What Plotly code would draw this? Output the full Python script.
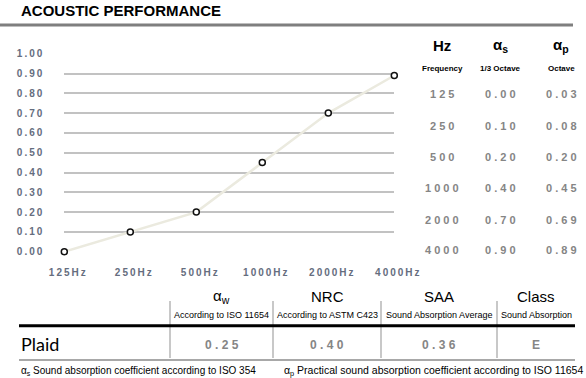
import plotly.graph_objects as go

W, H = 586, 378

# ---------------- data ----------------
freq_labels = ["125Hz", "250Hz", "500Hz", "1000Hz", "2000Hz", "4000Hz"]
plot_values = [0.00, 0.10, 0.20, 0.45, 0.70, 0.89]
y_ticks = [0.0, 0.1, 0.2, 0.3, 0.4, 0.5, 0.6, 0.7, 0.8, 0.9, 1.0]

table_freq = ["125", "250", "500", "1000", "2000", "4000"]
alpha_s = ["0.00", "0.10", "0.20", "0.40", "0.70", "0.90"]
alpha_p = ["0.03", "0.08", "0.20", "0.45", "0.69", "0.89"]

summary_heads = ["α<sub>w</sub>", "NRC", "SAA", "Class"]
summary_subs = ["According to ISO 11654", "According to ASTM C423",
                "Sound Absorption Average", "Sound Absorption"]
product_name = "Plaid"
summary_values = ["0.25", "0.40", "0.36", "E"]

title_text = "ACOUSTIC PERFORMANCE"
footnote_1 = "α<sub>s</sub> Sound absorption coefficient according to ISO 354"
footnote_2 = "α<sub>p</sub> Practical sound absorption coefficient according to ISO 11654"


def px(x):
    return x / W


def py(y):
    return 1 - y / H


def spaced(s, sep="\u2009"):
    return sep.join(list(s))


AX_COL = "#656d7e"
VAL_COL = "#858585"

fig = go.Figure()
fig.add_trace(go.Scatter(
    x=list(range(len(freq_labels))), y=plot_values,
    mode="lines+markers",
    line=dict(color="#ebeadf", width=2.5),
    marker=dict(symbol="circle", size=6, color="white",
                line=dict(color="#111111", width=1.5)),
    cliponaxis=False, hoverinfo="skip", showlegend=False,
))

fig.update_layout(
    width=W, height=H,
    margin=dict(l=0, r=0, t=0, b=0, pad=0, autoexpand=False),
    paper_bgcolor="white", plot_bgcolor="white",
    showlegend=False,
    xaxis=dict(
        domain=[px(64.3), px(394.3)], range=[0, len(freq_labels) - 1],
        tickmode="array", tickvals=list(range(len(freq_labels))),
        ticktext=[spaced(t) for t in freq_labels],
        showgrid=False, zeroline=False, showline=False, ticks="",
        ticklabelstandoff=13, ticklabelshift=3, automargin=False,
        tickfont=dict(family="Liberation Sans", size=10, color=AX_COL, weight="bold"),
    ),
    yaxis=dict(
        domain=[py(251.7), py(53.7)], range=[0, 1],
        tickmode="array", tickvals=y_ticks,
        ticktext=[spaced(f"{v:.2f}") for v in y_ticks],
        showgrid=True, gridcolor="#c2c2c2", gridwidth=1.6,
        zeroline=False, showline=False, ticks="",
        ticklabelstandoff=21, automargin=False,
        tickfont=dict(family="Liberation Sans", size=10, color=AX_COL, weight="bold"),
    ),
)

ann = []


def add_text(x, y, text, size, color="#000000", bold=False, family="Liberation Sans",
             xanchor="center"):
    ann.append(dict(
        x=px(x), y=py(y), xref="paper", yref="paper", text=text, showarrow=False,
        xanchor=xanchor, yanchor="middle",
        font=dict(family=family, size=size, color=color,
                  weight="bold" if bold else "normal"),
    ))


# title
add_text(19, 11, title_text, 15, bold=True, xanchor="left")

# right table
col_x = [442, 500, 561]
add_text(col_x[0], 45, "Hz", 15, bold=True)
add_text(col_x[1], 45, "α<sub>s</sub>", 15, bold=True)
add_text(col_x[2], 45, "α<sub>p</sub>", 15, bold=True)
add_text(col_x[0], 68, "Frequency", 8, bold=True)
add_text(col_x[1], 68, "1/3 Octave", 8, bold=True)
add_text(col_x[2], 68, "Octave", 8, bold=True)
row_y = [94, 126, 157, 188, 220, 250]
for i, yy in enumerate(row_y):
    add_text(col_x[0], yy, spaced(table_freq[i], " "), 11, color=VAL_COL, bold=True)
    add_text(col_x[1], yy, spaced(alpha_s[i], " "), 11, color=VAL_COL, bold=True)
    add_text(col_x[2], yy, spaced(alpha_p[i], " "), 11, color=VAL_COL, bold=True)

# bottom table
seps = [170, 273, 381, 497, 575]
for i in range(4):
    cx = (seps[i] + seps[i + 1]) / 2
    add_text(cx, 296, summary_heads[i], 15)
    add_text(cx, 314.5, summary_subs[i], 9)
    add_text(cx, 345, spaced(summary_values[i], " "), 12, color=VAL_COL, bold=True)
add_text(19, 344, product_name, 18, family="Lato", xanchor="left")

# footnotes
add_text(19, 371, footnote_1, 10, xanchor="left")
add_text(282, 371, footnote_2, 10.5, xanchor="left")

fig.update_layout(annotations=ann)

shapes = []
shapes.append(dict(type="line", xref="paper", yref="paper",
                   x0=px(0), x1=px(573), y0=py(25), y1=py(25),
                   line=dict(color="#7f7f7f", width=3)))
for sx in seps[:4]:
    shapes.append(dict(type="line", xref="paper", yref="paper",
                       x0=px(sx), x1=px(sx), y0=py(301), y1=py(358),
                       line=dict(color="#c8c8c8", width=2)))
shapes.append(dict(type="line", xref="paper", yref="paper",
                   x0=px(19), x1=px(575), y0=py(325.7), y1=py(325.7),
                   line=dict(color="#000000", width=3)))
shapes.append(dict(type="line", xref="paper", yref="paper",
                   x0=px(19), x1=px(575), y0=py(360), y1=py(360),
                   line=dict(color="#a8a8a8", width=2)))
fig.update_layout(shapes=shapes)

fig.write_html(
    "out.html",
    config={"displayModeBar": False},
    post_script="document.body.style.margin='0';document.body.style.overflow='hidden';",
)
